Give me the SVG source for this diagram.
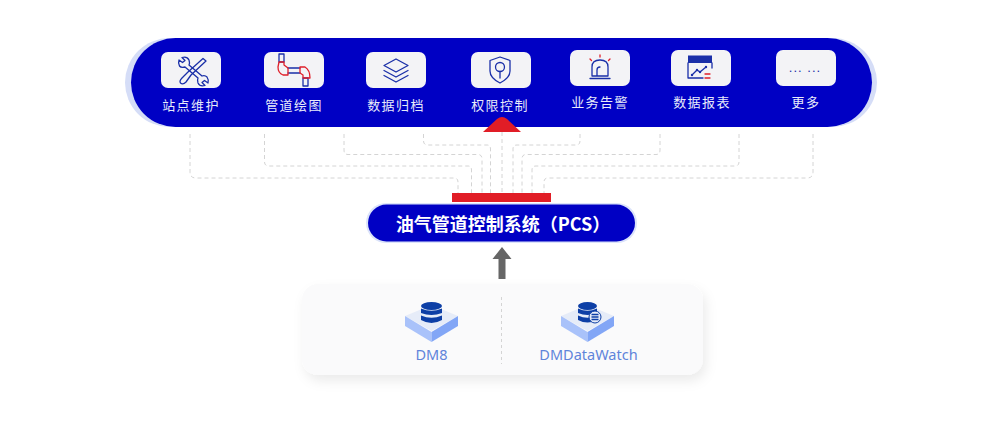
<svg xmlns="http://www.w3.org/2000/svg" width="1003" height="431" viewBox="0 0 1003 431">
<defs>
<style>
.tile{fill:#f3f3f6}
.lbl{font-family:"Noto Sans CJK SC","Noto Sans",sans-serif;font-size:13px;letter-spacing:1.4px;fill:#e8ebfa;text-anchor:middle}
.dash{fill:none;stroke:#d4d4d4;stroke-width:1;stroke-dasharray:4 3}
.ic{fill:none;stroke:#1a2fa8;stroke-width:1.3;stroke-linejoin:round;stroke-linecap:round}
.icr{fill:none;stroke:#e0202a;stroke-width:1.3;stroke-linejoin:round;stroke-linecap:round}
.prod{font-family:"Noto Sans","Noto Sans CJK SC",sans-serif;font-size:14.5px;fill:#5f84da;text-anchor:middle}
</style>
<filter id="sh" x="-10%" y="-30%" width="120%" height="170%"><feDropShadow dx="3" dy="6" stdDeviation="6" flood-color="#000" flood-opacity="0.08"/></filter>
<g id="plat">
<path d="M0 11 L26.500 0 L53 11 L26.500 26 Z" fill="#e6ecf8"/>
<path d="M0 11 L26.500 27 L26.500 37 L0 21 Z" fill="#a9c2fa"/>
<path d="M53 11 L26.500 27 L26.500 37 L53 21 Z" fill="#82a6f6"/>
</g>
</defs>
<rect width="1003" height="431" fill="#fff"/>

<g id="connectors">
<path class="dash" d="M190 134V172Q190 178 196 178H454Q458 178 458 182V193"/>
<path class="dash" d="M264.500 134V162Q264.500 166 269 166H468Q471.500 166 471.500 170V193"/>
<path class="dash" d="M344 134V150Q344 154.500 348 154.500H478Q482 154.500 482 159V193"/>
<path class="dash" d="M423.500 134V141Q423.500 145 428 145H487Q490.500 145 490.500 149V193"/>
<path class="dash" d="M502 132V193"/>
<path class="dash" d="M580 134V141Q580 145 576 145H517Q513 145 513 149V193"/>
<path class="dash" d="M660 134V150Q660 154.500 656 154.500H526Q522 154.500 522 159V193"/>
<path class="dash" d="M739 134V162Q739 166 735 166H536Q532 166 532 170V193"/>
<path class="dash" d="M813 134V172Q813 178 807 178H548Q544 178 544 182V193"/>
<path d="M498.500 279V259H492.500L502 247L511.500 259H505.500V279Z" fill="#666"/>
</g>

<g id="platform">
<rect x="125" y="38" width="752" height="89" rx="44.500" fill="#d5ddf7"/>
<rect x="131" y="38" width="741" height="89" rx="44.500" fill="#0000c4"/>
</g>

<g id="node-site">
<rect class="tile" x="161" y="52" width="60" height="36" rx="7"/>
<path class="ic" d="M179 60L182.500 62.500L185 60.500L182 57.500Q187 56 189 60Q190 63 189 65L202 76Q205 75 207 77Q209 80 208 83L204.500 80.500L202 82.500L205 85.500Q200 87 198 83Q197 80 198 78L185 67Q181 68 179.500 66Q178 63 179 60Z"/>
<path class="ic" d="M203 58.500L206 61L191 75L186 82Q183 85 180.500 83Q179 81 182 78L188 72Z"/>
<text class="lbl" x="191" y="110">站点维护</text>
</g>
<g id="node-pipe">
<rect class="tile" x="264" y="52" width="60" height="36" rx="7"/>
<path class="ic" d="M279 54H284V62H279ZM288 68H300M288 73H300M303 78H308V86H303Z"/>
<path class="icr" d="M279 62H284V65L288 68V75H283Q278 73 278 67ZM300 67H305Q310 70 310 78H303V75L300 73Z"/>
<text class="lbl" x="294" y="110">管道绘图</text>
</g>
<g id="node-archive">
<rect class="tile" x="366" y="52" width="60" height="36" rx="7"/>
<path class="ic" d="M396 59L408 65.500L396 72L384 65.500Z"/>
<path class="ic" d="M384 70.500L396 77L408 70.500M384 75.500L396 82L408 75.500"/>
<text class="lbl" x="396" y="110">数据归档</text>
</g>
<g id="node-access">
<rect class="tile" x="471" y="52" width="60" height="36" rx="7"/>
<path class="ic" d="M500 57L510 60.500V71Q510 78 500 83Q490 78 490 71V60.500Z"/>
<circle class="ic" cx="500" cy="67" r="4.500"/>
<path class="ic" d="M500 71.500V78"/>
<text class="lbl" x="500" y="110">权限控制</text>
</g>
<g id="node-alert">
<rect class="tile" x="570" y="50" width="60" height="36" rx="7"/>
<path class="ic" d="M592 76V67Q592 60 600 60Q608 60 608 67V76ZM597 76V70Q597 67 600 67"/>
<path class="ic" d="M590 78.500H610"/>
<path class="icr" d="M600 55V57M590 59L591.500 60.500M610 59L608.500 60.500"/>
<text class="lbl" x="600" y="107">业务告警</text>
</g>
<g id="node-report">
<rect class="tile" x="671" y="50" width="60" height="36" rx="7"/>
<path d="M688 55.500H712V63H688Z" fill="#1a2fa8"/>
<path class="ic" d="M688 63V78H703M712 63V68"/>
<path class="ic" d="M692 75L697 70L700 72L706 67"/>
<circle cx="692" cy="75" r="1.200" fill="#1a2fa8"/><circle cx="697" cy="70" r="1.200" fill="#1a2fa8"/><circle cx="700" cy="72" r="1.200" fill="#1a2fa8"/><circle cx="706" cy="67" r="1.200" fill="#1a2fa8"/>
<path class="icr" d="M705 74H710M705 78H710"/>
<text class="lbl" x="702" y="107">数据报表</text>
</g>
<g id="node-more">
<rect class="tile" x="776" y="50" width="60" height="36" rx="7"/>
<text x="805" y="72" font-family="'Liberation Sans',sans-serif" font-size="13" letter-spacing="1" fill="#1a2fa8" text-anchor="middle">... ...</text>
<text class="lbl" x="806" y="107">更多</text>
</g>

<g id="red-marks">
<path d="M483 132L497 119Q502 115 507 119L521 132Z" fill="#e11d26"/>
<rect x="452" y="193" width="99" height="9" fill="#e11d26"/>
</g>

<g id="node-pcs">
<rect x="366" y="203" width="271" height="40" rx="20" fill="#dbe3fa"/>
<rect x="368" y="204.500" width="267" height="37" rx="18.500" fill="#0000c4"/>
<text x="503" y="230.500" font-family="'Noto Sans CJK SC','Noto Sans',sans-serif" font-size="18" font-weight="700" fill="#fff" text-anchor="middle">油气管道控制系统（PCS）</text>
</g>

<g id="node-source">
<rect x="302" y="284" width="401" height="91" rx="16" fill="#fafafb" filter="url(#sh)"/>
<path d="M501.500 297V364" fill="none" stroke="#d4d4d4" stroke-width="1" stroke-dasharray="3 3"/>
</g>
<g id="node-dm8">
<use href="#plat" x="405" y="305"/>
<ellipse cx="431.500" cy="306" rx="10.500" ry="4" fill="#0d3fa6"/>
<path d="M421 308.500Q431.500 313 442 308.500V313Q431.500 317 421 313Z" fill="#0d3fa6"/>
<path d="M421 315.500Q431.500 320 442 315.500V320Q431.500 326 421 320Z" fill="#0d3fa6"/>
<text class="prod" x="431.500" y="360">DM8</text>
</g>
<g id="node-watch">
<use href="#plat" x="561" y="305"/>
<ellipse cx="587.500" cy="306" rx="9.500" ry="4" fill="#0d3fa6"/>
<path d="M578 308.500Q587.500 313 597 308.500V313Q587.500 317 578 313Z" fill="#0d3fa6"/>
<path d="M578 315.500Q587.500 320 597 315.500V320Q587.500 325 578 320Z" fill="#0d3fa6"/>
<circle cx="595" cy="317" r="6" fill="#e6ecf8" stroke="#0d3fa6" stroke-width="1"/>
<path d="M591.500 314.500H598.500M591.500 317H598.500M591.500 319.500H598.500" stroke="#0d3fa6" stroke-width="1.300" fill="none"/>
<text class="prod" x="588.500" y="360">DMDataWatch</text>
</g>
</svg>
